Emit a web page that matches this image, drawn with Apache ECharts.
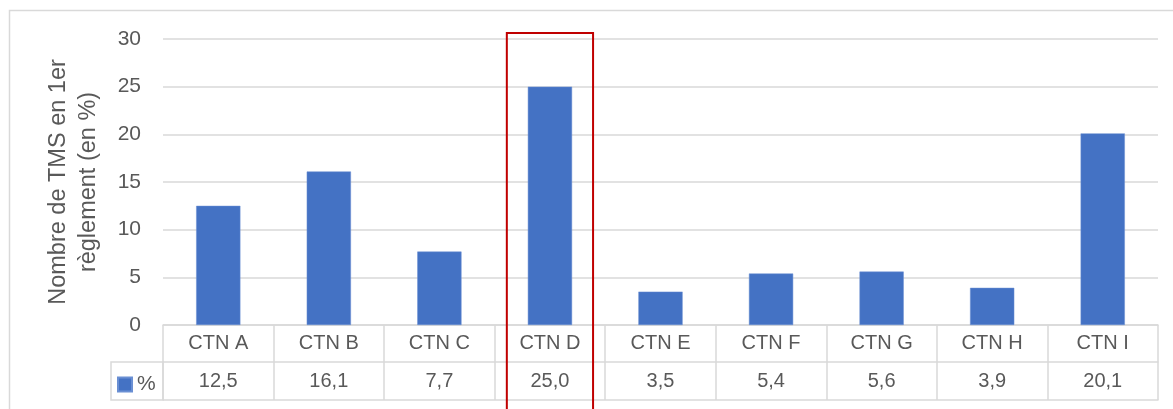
<!DOCTYPE html>
<html>
<head>
<meta charset="utf-8">
<script src="https://cdn.jsdelivr.net/npm/echarts@6/dist/echarts.min.js"></script>
<style>
html,body{margin:0;padding:0;background:#fff;}
#c{width:1173px;height:409px;}
</style>
</head>
<body>
<div id="c"></div>
<script>
var categories = ['CTN A','CTN B','CTN C','CTN D','CTN E','CTN F','CTN G','CTN H','CTN I'];
var values = [12.5, 16.1, 7.7, 25.0, 3.5, 5.4, 5.6, 3.9, 20.1];
var seriesName = '%';
var yTicks = {min: 0, max: 30, interval: 5};
var yTitle = 'Nombre de TMS en 1er\nrèglement (en %)';
var highlighted = 'CTN D';

var FONT = 'Liberation Sans';
var TXT = '#595959';
var LINE = '#d9d9d9';
var valueLabels = values.map(function (v) { return v.toFixed(1).replace('.', ','); });

var chart = echarts.init(document.getElementById('c'), null, {renderer: 'canvas'});
var option = {
  animation: false,
  backgroundColor: '#fff',
  textStyle: {fontFamily: FONT},
  grid: {left: 163, right: 15, top: 39, bottom: 84, containLabel: false},
  legend: {
    data: [seriesName], left: 117, top: 374, icon: 'rect', itemWidth: 14, itemHeight: 14,
    textStyle: {color: TXT, fontSize: 21, fontFamily: FONT}, selectedMode: false, padding: 0
  },
  xAxis: [
    {
      type: 'category', data: categories, position: 'bottom',
      axisLine: {show: true, lineStyle: {color: LINE, width: 1.5}},
      axisTick: {show: true, length: 75, lineStyle: {color: LINE, width: 1.5}},
      axisLabel: {color: TXT, fontSize: 20, fontFamily: FONT, margin: 8}
    },
    {
      type: 'category', data: valueLabels, position: 'bottom', offset: 37,
      axisLine: {show: true, lineStyle: {color: LINE, width: 1.5}},
      axisTick: {show: false},
      axisLabel: {color: TXT, fontSize: 20, fontFamily: FONT, margin: 9}
    },
    {
      type: 'category', data: categories, position: 'bottom', offset: 75,
      axisLine: {show: true, lineStyle: {color: LINE, width: 1.5}},
      axisTick: {show: false}, axisLabel: {show: false}
    }
  ],
  yAxis: {
    type: 'value', min: yTicks.min, max: yTicks.max, interval: yTicks.interval,
    axisLine: {show: false}, axisTick: {show: false},
    axisLabel: {color: TXT, fontSize: 21, fontFamily: FONT, margin: 22},
    splitLine: {lineStyle: {color: LINE, width: 1.5}},
    name: yTitle, nameLocation: 'middle', nameRotate: 90, nameGap: 59,
    nameTextStyle: {color: TXT, fontSize: 23.5, fontFamily: FONT, lineHeight: 30}
  },
  series: [{
    name: seriesName, type: 'bar', data: values, barWidth: '40%',
    itemStyle: {color: '#4472C4', borderColor: '#6a8fd3', borderWidth: 0.5}
  }]
};
chart.setOption(option);

var idx = categories.indexOf(highlighted);
var cx = chart.convertToPixel({xAxisIndex: 0}, categories[idx]);
var yTop = chart.convertToPixel({yAxisIndex: 0}, yTicks.max);
var x0 = chart.convertToPixel({xAxisIndex: 0}, categories[0]);
var x1 = chart.convertToPixel({xAxisIndex: 0}, categories[1]);
var band = x1 - x0;
var gridLeft = x0 - band / 2;
var yZero = chart.convertToPixel({yAxisIndex: 0}, 0);

chart.setOption({
  graphic: [
    {type: 'rect', shape: {x: 9.5, y: 10.5, width: 1200, height: 440},
     style: {fill: 'none', stroke: LINE, lineWidth: 1.5}, silent: true, z: 0},
    {type: 'rect', shape: {x: gridLeft - 52, y: yZero + 37, width: 52, height: 38},
     style: {fill: 'none', stroke: LINE, lineWidth: 1.5}, silent: true, z: 1},
    {type: 'rect', shape: {x: cx - band * 0.39, y: yTop - 6, width: band * 0.78, height: 400},
     style: {fill: 'none', stroke: '#C00000', lineWidth: 2}, silent: true, z: 10}
  ]
});
</script>
</body>
</html>
